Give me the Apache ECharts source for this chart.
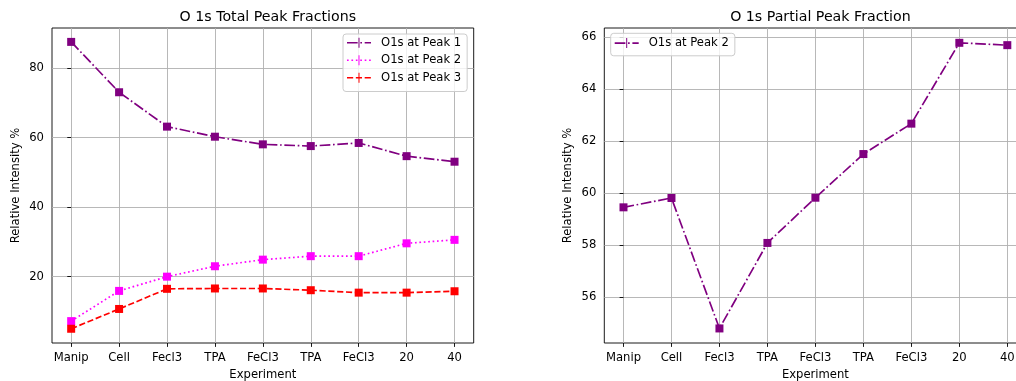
<!DOCTYPE html>
<html>
<head>
<meta charset="utf-8">
<script src="https://cdn.jsdelivr.net/npm/echarts@6/dist/echarts.min.js"></script>
<style>
html,body{margin:0;padding:0;background:#fff;}
#chart{width:1016px;height:381px;}
</style>
</head>
<body>
<div id="chart"></div>
<script>
// ---- data ----
const categories = ['Manip', 'Cell', 'Fecl3', 'TPA', 'FeCl3', 'TPA', 'FeCl3', '20', '40'];
const totalPeak1 = [87.6, 73.1, 63.2, 60.3, 58.1, 57.6, 58.5, 54.7, 53.1];
const totalPeak2 = [7.2, 15.9, 20.0, 23.0, 24.9, 25.9, 25.9, 29.6, 30.6];
const totalPeak3 = [5.0, 10.7, 16.5, 16.6, 16.6, 16.1, 15.4, 15.4, 15.8];
const partialPeak2 = [59.45, 59.81, 54.79, 58.08, 59.82, 61.5, 62.67, 65.78, 65.69];
const leftYTicks = [20, 40, 60, 80];
const rightYTicks = [56, 58, 60, 62, 64, 66];
const titles = ['O 1s Total Peak Fractions', 'O 1s Partial Peak Fraction'];
const seriesNames = ['O1s at Peak 1', 'O1s at Peak 2', 'O1s at Peak 3'];

// ---- styling ----
const FONT = 'DejaVu Sans';
const FS = 11.6;
const PURPLE = '#800080', MAGENTA = '#ff00ff', RED = '#ff0000';
const LW = 1.67;
const DASHDOT = [10.67, 2.67, 1.67, 2.67];
const DASHED = [6.17, 2.67];
const DOTTED = [1.67, 2.75];
const catIdx = categories.map((c, i) => i);

function pairs(arr) { return arr.map((v, i) => [i, v]); }

// legend handle icons (line pattern + vertical error bar), box 24 x 10
function rect(x0, x1, y0, y1) { return `M${x0},${y0}H${x1}V${y1}H${x0}Z`; }
function handleIcon(pattern) {
  const W = 24, y0 = 4.17, y1 = 5.83;
  let p = '';
  let x = 0, k = 0;
  while (x < W) {
    const len = pattern[k % pattern.length];
    if (k % 2 === 0) p += rect(x, Math.min(W, x + len), y0, y1);
    x += len; k++;
  }
  p += rect(11.5, 12.5, 0, 10);
  p += rect(23.9, 24, 4.9, 5.1);
  return 'path://' + p;
}

const chart = echarts.init(document.getElementById('chart'), null, {renderer: 'canvas'});

function xAxisFor(gi) {
  return {
    gridIndex: gi, type: 'value', min: -0.4, max: 8.4,
    axisLine: {show: false},
    axisTick: {show: true, length: 3.9, lineStyle: {color: '#000', width: 0.9}, customValues: catIdx},
    axisLabel: {customValues: catIdx, formatter: v => categories[Math.round(v)], margin: 9,
      fontSize: FS, color: '#000', fontFamily: FONT},
    splitLine: {show: true, lineStyle: {color: '#b0b0b0', width: 0.9}},
    name: 'Experiment', nameLocation: 'middle', nameGap: 24,
    nameTextStyle: {fontSize: FS, color: '#000', fontFamily: FONT}
  };
}
function yAxisFor(gi, min, max, ticks) {
  return {
    gridIndex: gi, type: 'value', min: min, max: max,
    axisLine: {show: false},
    axisTick: {show: true, length: 3.9, lineStyle: {color: '#000', width: 0.9}, customValues: ticks},
    axisLabel: {customValues: ticks, margin: 8, fontSize: FS, color: '#000', fontFamily: FONT},
    splitLine: {show: true, lineStyle: {color: '#b0b0b0', width: 0.9}},
    name: 'Relative Intensity %', nameLocation: 'middle', nameGap: 30, nameRotate: 90,
    nameTextStyle: {fontSize: FS, color: '#000', fontFamily: FONT}
  };
}
function lineSeries(name, gi, data, color, dash) {
  return {
    type: 'line', name: name, xAxisIndex: gi, yAxisIndex: gi, data: pairs(data),
    symbol: 'rect', symbolSize: 8, showSymbol: true,
    lineStyle: {color: color, width: LW, type: dash},
    itemStyle: {color: color},
    emphasis: {disabled: true}, z: 3
  };
}
const legendCommon = {
  orient: 'vertical', itemWidth: 24, itemHeight: 10, itemGap: 0,
  backgroundColor: 'rgba(255,255,255,0.8)', borderColor: '#cccccc', borderWidth: 1, borderRadius: 3,
  textStyle: {fontSize: FS, color: '#000', fontFamily: FONT, lineHeight: 17.5, padding: [0, 0, 0, 5]},
  selectedMode: false
};

const option = {
  animation: false,
  backgroundColor: '#fff',
  title: [
    {text: titles[0], left: 262.8, top: 5, textAlign: 'center',
      textStyle: {fontSize: 14.2, fontWeight: 'normal', color: '#000', fontFamily: FONT}},
    {text: titles[1], left: 815.4, top: 5, textAlign: 'center',
      textStyle: {fontSize: 14.2, fontWeight: 'normal', color: '#000', fontFamily: FONT}}
  ],
  grid: [
    {left: 52, right: 542.3, top: 28, bottom: 38, show: true, borderColor: '#000', borderWidth: 0.9,
      backgroundColor: 'transparent', containLabel: false, outerBoundsMode: 'none'},
    {left: 604.3, right: -10.5, top: 28, bottom: 38, show: true, borderColor: '#000', borderWidth: 0.9,
      backgroundColor: 'transparent', containLabel: false, outerBoundsMode: 'none'}
  ],
  legend: [
    Object.assign({}, legendCommon, {
      left: 343, top: 34, padding: [0, 6, 5, 4],
      data: [
        {name: seriesNames[0], icon: handleIcon(DASHDOT), itemStyle: {color: PURPLE}},
        {name: seriesNames[1], icon: handleIcon(DOTTED), itemStyle: {color: MAGENTA}},
        {name: seriesNames[2], icon: handleIcon(DASHED), itemStyle: {color: RED}}
      ]
    }),
    Object.assign({}, legendCommon, {
      left: 610.7, top: 33.3, padding: [1, 6, 4, 4],
      data: [{name: 'O1s at Peak 2 ', icon: handleIcon(DASHDOT), itemStyle: {color: PURPLE}}],
      formatter: n => n.trim()
    })
  ],
  xAxis: [xAxisFor(0), xAxisFor(1)],
  yAxis: [yAxisFor(0, 0.9, 91.6, leftYTicks), yAxisFor(1, 54.23, 66.35, rightYTicks)],
  series: [
    lineSeries(seriesNames[0], 0, totalPeak1, PURPLE, DASHDOT),
    lineSeries(seriesNames[1], 0, totalPeak2, MAGENTA, DOTTED),
    lineSeries(seriesNames[2], 0, totalPeak3, RED, DASHED),
    lineSeries('O1s at Peak 2 ', 1, partialPeak2, PURPLE, DASHDOT)
  ]
};
chart.setOption(option);
</script>
</body>
</html>
